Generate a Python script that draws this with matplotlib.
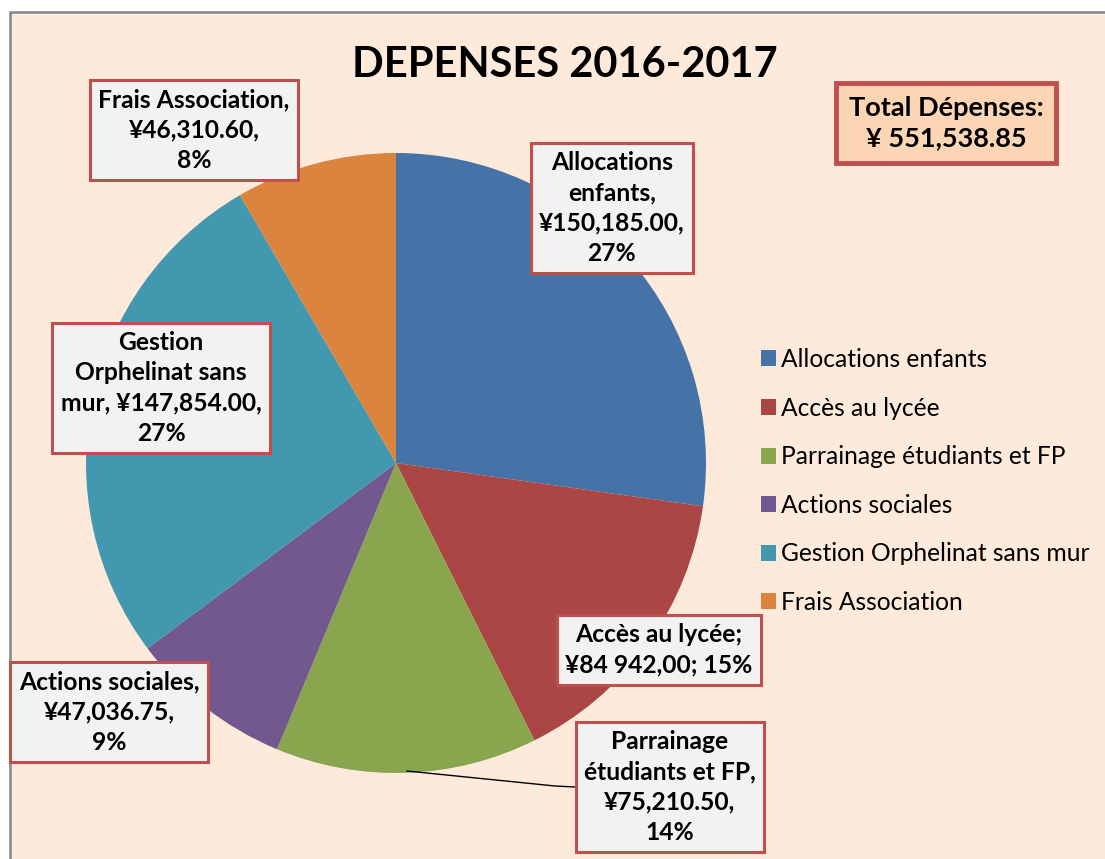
import matplotlib.pyplot as plt
from matplotlib.patches import Rectangle

plt.rcParams['font.family'] = ['Lato', 'DejaVu Sans']

categories = ["Allocations enfants", "Accès au lycée", "Parrainage étudiants et FP",
              "Actions sociales", "Gestion Orphelinat sans mur", "Frais Association"]
values = [150185.00, 84942.00, 75210.50, 47036.75, 147854.00, 46310.60]
colors = ["#4572A7", "#AA4643", "#89A54E", "#71588F", "#4198AF", "#DB843D"]
label_texts = [
    "Allocations\nenfants,\n¥150,185.00,\n27%",
    "Accès au lycée;\n¥84 942,00; 15%",
    "Parrainage\nétudiants et FP,\n¥75,210.50,\n14%",
    "Actions sociales,\n¥47,036.75,\n9%",
    "Gestion\nOrphelinat sans\nmur, ¥147,854.00,\n27%",
    "Frais Association,\n¥46,310.60,\n8%",
]
# box centres in pixels (x, y from top)
label_pos = [(612, 208), (659, 650), (670, 787), (109, 712), (161, 388), (194, 130)]

W, H = 1105, 859
fig = plt.figure(figsize=(W / 100, H / 100), dpi=100)
fig.patch.set_facecolor("white")

def fx(x):
    return x / W

def fy(y):
    return 1 - y / H

# chart area background with grey border
fig.patches.append(Rectangle((fx(10), fy(900)), fx(1200), 888 / H,
                             transform=fig.transFigure, facecolor="#FDEADA",
                             edgecolor="#868686", linewidth=1.8, zorder=-5))

cx, cy, r = 396, 463, 310
ax = fig.add_axes([fx(cx - r), fy(cy + r), 2 * r / W, 2 * r / H])
ax.set_facecolor("none")
wedges, _ = ax.pie(values, colors=colors, startangle=90, counterclock=False,
                   radius=1, wedgeprops=dict(linewidth=0))
ax.set_xlim(-1, 1)
ax.set_ylim(-1, 1)
ax.set_aspect("equal")
ax.axis("off")

# leader line for Parrainage
fig.add_artist(plt.Line2D([fx(407), fx(555), fx(575)], [fy(771), fy(786), fy(787)],
                          color="black", linewidth=1.0, transform=fig.transFigure,
                          zorder=3))

for txt, (x, y) in zip(label_texts, label_pos):
    fig.text(fx(x), fy(y), txt, ha="center", va="center", fontsize=17.7,
             fontweight="bold", linespacing=1.38, zorder=5,
             bbox=dict(boxstyle="square,pad=0.35", facecolor="#F2F2F2",
                       edgecolor="#C0504D", linewidth=2.2))

fig.text(fx(565), fy(65), "DEPENSES 2016-2017", ha="center", va="center",
         fontsize=30, fontweight="bold")

fig.text(fx(946), fy(123), "Total Dépenses:\n¥ 551,538.85", ha="center", va="center",
         fontsize=19.5, fontweight="bold", linespacing=1.3,
         bbox=dict(boxstyle="square,pad=0.48", facecolor="#FCD5B5",
                   edgecolor="#C0504D", linewidth=3.5))

fig.legend(wedges, categories, loc="center left",
           bbox_to_anchor=(fx(761), fy(481)), frameon=False, fontsize=17.7,
           handlelength=0.62, handleheight=0.62, handletextpad=0.2,
           labelspacing=1.04, borderpad=0, borderaxespad=0)

fig.savefig("out.png", dpi=100, facecolor=fig.get_facecolor())
